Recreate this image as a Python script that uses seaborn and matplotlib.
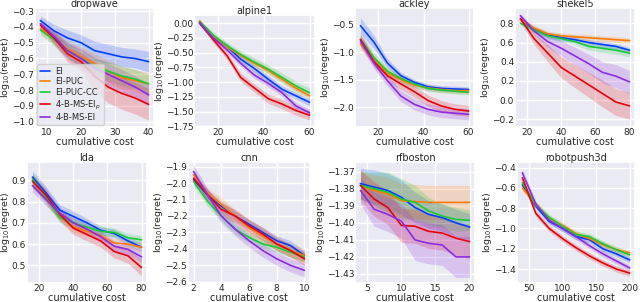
import matplotlib
matplotlib.use("Agg")
import matplotlib.pyplot as plt
from matplotlib.ticker import MultipleLocator
import seaborn as sns
import numpy as np
import pandas as pd

methods = ["EI", "EI-PUC", "EI-PUC-CC", "4-B-MS-EI$_p$", "4-B-MS-EI"]

# dropwave
dropwave_cost = [8, 12, 16, 20, 24, 28, 32, 36, 40]
dropwave_mean = {
    "EI": [-0.36, -0.425, -0.47, -0.50, -0.55, -0.57, -0.59, -0.60, -0.62],
    "EI-PUC": [-0.41, -0.47, -0.54, -0.59, -0.63, -0.68, -0.72, -0.74, -0.76],
    "EI-PUC-CC": [-0.42, -0.48, -0.55, -0.60, -0.65, -0.68, -0.71, -0.73, -0.76],
    "4-B-MS-EI$_p$": [-0.39, -0.47, -0.57, -0.62, -0.71, -0.78, -0.82, -0.85, -0.89],
    "4-B-MS-EI": [-0.38, -0.46, -0.55, -0.60, -0.66, -0.70, -0.74, -0.78, -0.83],
}
dropwave_band = {
    "EI": [0.03, 0.04, 0.05, 0.05, 0.06, 0.06, 0.06, 0.06, 0.065],
    "EI-PUC": [0.03, 0.04, 0.05, 0.06, 0.06, 0.07, 0.07, 0.07, 0.07],
    "EI-PUC-CC": [0.03, 0.04, 0.05, 0.05, 0.05, 0.06, 0.06, 0.06, 0.06],
    "4-B-MS-EI$_p$": [0.02, 0.04, 0.05, 0.06, 0.09, 0.10, 0.10, 0.10, 0.10],
    "4-B-MS-EI": [0.02, 0.04, 0.05, 0.06, 0.07, 0.07, 0.07, 0.07, 0.07],
}

# alpine1
alpine1_cost = [12, 18, 24, 30, 36, 42, 48, 54, 60]
alpine1_mean = {
    "EI": [0.0, -0.25, -0.39, -0.61, -0.77, -0.95, -1.12, -1.23, -1.34],
    "EI-PUC": [0.04, -0.22, -0.40, -0.55, -0.68, -0.80, -0.95, -1.10, -1.23],
    "EI-PUC-CC": [0.03, -0.20, -0.38, -0.53, -0.66, -0.78, -0.92, -1.06, -1.18],
    "4-B-MS-EI$_p$": [0.01, -0.28, -0.55, -0.92, -1.10, -1.28, -1.37, -1.48, -1.56],
    "4-B-MS-EI": [0.01, -0.25, -0.45, -0.68, -0.88, -1.02, -1.18, -1.40, -1.52],
}
alpine1_band = {
    "EI": [0.03, 0.04, 0.05, 0.05, 0.06, 0.06, 0.06, 0.06, 0.06],
    "EI-PUC": [0.03, 0.04, 0.05, 0.05, 0.06, 0.06, 0.06, 0.06, 0.06],
    "EI-PUC-CC": [0.03, 0.05, 0.06, 0.06, 0.07, 0.07, 0.08, 0.08, 0.08],
    "4-B-MS-EI$_p$": [0.03, 0.05, 0.06, 0.07, 0.07, 0.08, 0.08, 0.08, 0.08],
    "4-B-MS-EI": [0.03, 0.04, 0.05, 0.05, 0.06, 0.06, 0.06, 0.06, 0.06],
}

# ackley
ackley_cost = [12, 18, 24, 30, 36, 42, 48, 54, 60]
ackley_mean = {
    "EI": [-0.52, -0.82, -1.20, -1.43, -1.55, -1.63, -1.66, -1.67, -1.68],
    "EI-PUC": [-0.85, -1.15, -1.38, -1.50, -1.60, -1.65, -1.68, -1.70, -1.70],
    "EI-PUC-CC": [-0.77, -1.10, -1.35, -1.48, -1.58, -1.66, -1.69, -1.71, -1.73],
    "4-B-MS-EI$_p$": [-0.77, -1.17, -1.43, -1.58, -1.72, -1.88, -1.98, -2.04, -2.07],
    "4-B-MS-EI": [-0.80, -1.20, -1.52, -1.80, -1.95, -2.04, -2.09, -2.11, -2.13],
}
ackley_band = {
    "EI": [0.15, 0.12, 0.08, 0.06, 0.05, 0.05, 0.05, 0.05, 0.05],
    "EI-PUC": [0.10, 0.08, 0.07, 0.06, 0.05, 0.05, 0.05, 0.05, 0.05],
    "EI-PUC-CC": [0.10, 0.09, 0.08, 0.07, 0.06, 0.05, 0.05, 0.05, 0.05],
    "4-B-MS-EI$_p$": [0.10, 0.10, 0.10, 0.10, 0.10, 0.10, 0.10, 0.10, 0.10],
    "4-B-MS-EI": [0.10, 0.10, 0.10, 0.10, 0.10, 0.10, 0.10, 0.10, 0.10],
}

# shekel5
shekel5_cost = [16, 24, 32, 40, 48, 56, 64, 72, 80]
shekel5_mean = {
    "EI": [0.84, 0.74, 0.68, 0.65, 0.63, 0.60, 0.58, 0.56, 0.52],
    "EI-PUC": [0.84, 0.75, 0.69, 0.67, 0.66, 0.65, 0.64, 0.63, 0.62],
    "EI-PUC-CC": [0.80, 0.73, 0.67, 0.64, 0.61, 0.56, 0.54, 0.52, 0.49],
    "4-B-MS-EI$_p$": [0.85, 0.64, 0.49, 0.34, 0.25, 0.16, 0.07, -0.02, -0.06],
    "4-B-MS-EI": [0.88, 0.72, 0.61, 0.54, 0.46, 0.38, 0.29, 0.25, 0.19],
}
shekel5_band = {
    "EI": [0.02, 0.03, 0.03, 0.03, 0.03, 0.03, 0.03, 0.03, 0.03],
    "EI-PUC": [0.02, 0.03, 0.03, 0.03, 0.03, 0.03, 0.03, 0.03, 0.03],
    "EI-PUC-CC": [0.02, 0.03, 0.03, 0.03, 0.03, 0.04, 0.04, 0.04, 0.04],
    "4-B-MS-EI$_p$": [0.03, 0.06, 0.09, 0.11, 0.12, 0.13, 0.14, 0.14, 0.14],
    "4-B-MS-EI": [0.02, 0.04, 0.06, 0.08, 0.09, 0.10, 0.11, 0.12, 0.12],
}

# lda
lda_cost = [16, 24, 32, 40, 48, 56, 64, 72, 80]
lda_mean = {
    "EI": [0.915, 0.84, 0.76, 0.73, 0.70, 0.665, 0.65, 0.615, 0.585],
    "EI-PUC": [0.90, 0.82, 0.735, 0.68, 0.66, 0.64, 0.605, 0.60, 0.585],
    "EI-PUC-CC": [0.905, 0.82, 0.725, 0.70, 0.68, 0.66, 0.655, 0.63, 0.62],
    "4-B-MS-EI$_p$": [0.895, 0.83, 0.74, 0.675, 0.645, 0.615, 0.565, 0.545, 0.49],
    "4-B-MS-EI": [0.875, 0.81, 0.745, 0.70, 0.67, 0.635, 0.59, 0.575, 0.54],
}
lda_band = {
    "EI": [0.03, 0.03, 0.025, 0.025, 0.02, 0.02, 0.02, 0.02, 0.02],
    "EI-PUC": [0.03, 0.03, 0.025, 0.025, 0.02, 0.02, 0.02, 0.02, 0.02],
    "EI-PUC-CC": [0.03, 0.03, 0.025, 0.025, 0.02, 0.02, 0.02, 0.02, 0.02],
    "4-B-MS-EI$_p$": [0.03, 0.03, 0.03, 0.03, 0.03, 0.03, 0.03, 0.035, 0.04],
    "4-B-MS-EI": [0.03, 0.03, 0.025, 0.025, 0.025, 0.025, 0.025, 0.025, 0.025],
}

# cnn
cnn_cost = [2, 3, 4, 5, 6, 7, 8, 9, 10]
cnn_mean = {
    "EI": [-1.98, -2.07, -2.14, -2.20, -2.25, -2.30, -2.35, -2.38, -2.44],
    "EI-PUC": [-1.95, -2.06, -2.13, -2.20, -2.27, -2.32, -2.37, -2.41, -2.44],
    "EI-PUC-CC": [-1.99, -2.11, -2.20, -2.28, -2.33, -2.37, -2.39, -2.42, -2.45],
    "4-B-MS-EI$_p$": [-1.97, -2.07, -2.16, -2.20, -2.26, -2.31, -2.37, -2.41, -2.46],
    "4-B-MS-EI": [-1.93, -2.07, -2.20, -2.28, -2.35, -2.41, -2.46, -2.50, -2.53],
}
cnn_band = {
    "EI": [0.03, 0.03, 0.03, 0.03, 0.03, 0.03, 0.03, 0.03, 0.03],
    "EI-PUC": [0.03, 0.03, 0.04, 0.04, 0.04, 0.04, 0.04, 0.04, 0.04],
    "EI-PUC-CC": [0.03, 0.03, 0.03, 0.03, 0.03, 0.03, 0.03, 0.03, 0.03],
    "4-B-MS-EI$_p$": [0.03, 0.03, 0.04, 0.04, 0.04, 0.04, 0.04, 0.04, 0.04],
    "4-B-MS-EI": [0.04, 0.04, 0.04, 0.04, 0.04, 0.04, 0.04, 0.04, 0.04],
}

# rfboston
rfboston_cost = [4, 6, 8, 10, 12, 14, 16, 18, 20]
rfboston_mean = {
    "EI": [-1.377, -1.379, -1.381, -1.385, -1.391, -1.395, -1.397, -1.400, -1.4025],
    "EI-PUC": [-1.378, -1.381, -1.383, -1.387, -1.3875, -1.388, -1.388, -1.388, -1.388],
    "EI-PUC-CC": [-1.378, -1.380, -1.382, -1.386, -1.388, -1.393, -1.396, -1.398, -1.3985],
    "4-B-MS-EI$_p$": [-1.378, -1.386, -1.391, -1.4015, -1.402, -1.405, -1.406, -1.409, -1.411],
    "4-B-MS-EI": [-1.381, -1.392, -1.395, -1.399, -1.410, -1.412, -1.413, -1.420, -1.420],
}
rfboston_band = {
    "EI": [0.009, 0.010, 0.010, 0.010, 0.009, 0.008, 0.008, 0.008, 0.008],
    "EI-PUC": [0.008, 0.009, 0.010, 0.010, 0.010, 0.010, 0.010, 0.010, 0.010],
    "EI-PUC-CC": [0.008, 0.010, 0.012, 0.012, 0.010, 0.008, 0.007, 0.007, 0.006],
    "4-B-MS-EI$_p$": [0.009, 0.010, 0.010, 0.010, 0.010, 0.010, 0.010, 0.010, 0.010],
    "4-B-MS-EI": [0.008, 0.010, 0.010, 0.010, 0.012, 0.012, 0.012, 0.012, 0.012],
}

# robotpush3d
robotpush3d_cost = [40, 60, 80, 100, 120, 140, 160, 180, 200]
robotpush3d_mean = {
    "EI": [-0.57, -0.78, -0.93, -1.00, -1.08, -1.11, -1.20, -1.25, -1.31],
    "EI-PUC": [-0.60, -0.76, -0.90, -0.97, -1.05, -1.10, -1.16, -1.21, -1.24],
    "EI-PUC-CC": [-0.55, -0.77, -0.89, -0.98, -1.06, -1.08, -1.15, -1.21, -1.26],
    "4-B-MS-EI$_p$": [-0.50, -0.85, -1.00, -1.10, -1.19, -1.27, -1.34, -1.40, -1.44],
    "4-B-MS-EI": [-0.45, -0.76, -0.92, -1.00, -1.08, -1.17, -1.25, -1.32, -1.39],
}
robotpush3d_band = {
    "EI": [0.03, 0.03, 0.03, 0.03, 0.03, 0.03, 0.03, 0.03, 0.03],
    "EI-PUC": [0.03, 0.03, 0.03, 0.03, 0.03, 0.03, 0.03, 0.03, 0.03],
    "EI-PUC-CC": [0.03, 0.03, 0.03, 0.03, 0.03, 0.03, 0.03, 0.03, 0.03],
    "4-B-MS-EI$_p$": [0.03, 0.03, 0.03, 0.03, 0.03, 0.03, 0.03, 0.03, 0.03],
    "4-B-MS-EI": [0.03, 0.03, 0.03, 0.03, 0.03, 0.03, 0.03, 0.03, 0.03],
}

panels = [
    ("dropwave", dropwave_cost, dropwave_mean, dropwave_band),
    ("alpine1", alpine1_cost, alpine1_mean, alpine1_band),
    ("ackley", ackley_cost, ackley_mean, ackley_band),
    ("shekel5", shekel5_cost, shekel5_mean, shekel5_band),
    ("lda", lda_cost, lda_mean, lda_band),
    ("cnn", cnn_cost, cnn_mean, cnn_band),
    ("rfboston", rfboston_cost, rfboston_mean, rfboston_band),
    ("robotpush3d", robotpush3d_cost, robotpush3d_mean, robotpush3d_band),
]

# axes boxes in pixels: left, right, top, bottom
boxes = [
    (35, 154, 8, 127), (194, 315, 15, 127), (355, 474, 8, 127), (515, 635, 8, 127),
    (27, 147, 162, 283), (188, 310, 162, 283), (355, 475, 162, 283), (517, 635, 162, 283),
]
# y-limits, y tick step, x tick step
ylims = [(-1.033, -0.281), (-1.76, 0.14), (-2.36, -0.2), (-0.28, 0.96),
         (0.417, 0.986), (-2.607, -1.872), (-1.4353, -1.3643), (-1.538, -0.344)]
ysteps = [0.1, 0.25, 0.5, 0.2, 0.1, 0.1, 0.01, 0.2]
xsteps = [10, 20, 20, 20, 20, 2, 5, 50]

sns.set_theme(style="darkgrid", palette="bright")
plt.rcParams.update({
    "font.family": ["DejaVu Sans"],
    "font.size": 7,
    "axes.titlesize": 7,
    "axes.labelsize": 7,
    "xtick.labelsize": 6.5,
    "ytick.labelsize": 6.5,
    "legend.fontsize": 6,
})
colors = sns.color_palette("bright", 5)

W, H = 640, 302
fig = plt.figure(figsize=(W / 100, H / 100), dpi=100)

for k, (name, cost, mean, band) in enumerate(panels):
    x0, x1, yt, yb = boxes[k]
    ax = fig.add_axes([x0 / W, 1 - yb / H, (x1 - x0) / W, (yb - yt) / H])
    for i, m in enumerate(methods):
        df = pd.DataFrame({"cost": cost, "val": mean[m]})
        sns.lineplot(data=df, x="cost", y="val", ax=ax, color=colors[i],
                     linewidth=1.2, label=m if k == 0 else None)
        lo = np.array(mean[m]) - np.array(band[m])
        hi = np.array(mean[m]) + np.array(band[m])
        ax.fill_between(cost, lo, hi, color=colors[i], alpha=0.2, linewidth=0)
    ax.set_ylim(*ylims[k])
    ax.yaxis.set_major_locator(MultipleLocator(ysteps[k]))
    ax.xaxis.set_major_locator(MultipleLocator(xsteps[k]))
    ax.set_title(name, pad=0.5)
    ax.set_xlabel("cumulative cost", labelpad=0)
    ax.set_ylabel("log$_{10}$(regret)", labelpad=0, fontsize=6.8)
    ax.tick_params(axis="x", length=0, pad=1)
    ax.tick_params(axis="y", length=0, pad=0.6)
    if k == 0:
        ax.legend(loc="lower left", handlelength=1.3, borderpad=0.3,
                  labelspacing=0.2, borderaxespad=0.25, handletextpad=0.6)
    elif ax.get_legend() is not None:
        ax.get_legend().remove()

plt.savefig("out.png", dpi=100)
